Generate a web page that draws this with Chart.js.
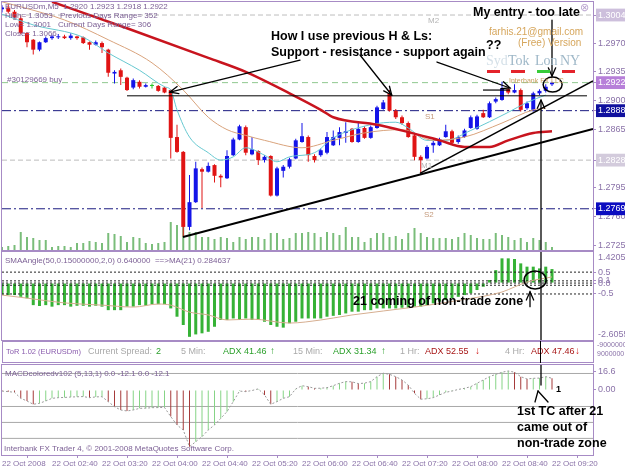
<!DOCTYPE html>
<html>
<head>
<meta charset="utf-8">
<title>EURUSDm M5</title>
<script src="https://cdn.jsdelivr.net/npm/chart.js@4.4.1/dist/chart.umd.min.js"></script>
<style>
html,body{margin:0;padding:0;background:#fff;}
body{width:625px;height:469px;position:relative;overflow:hidden;font-family:"Liberation Sans",Arial,sans-serif;}
canvas{position:absolute;left:0;}
.t{position:absolute;white-space:nowrap;line-height:1;}
.s8{font-size:8px;color:#7d6196;}
.b{font-weight:bold;font-size:12.5px;color:#000;}
.tor{font-size:9px;color:#a9a9a9;}
</style>
</head>
<body>
<canvas id="cMain" width="625" height="251" style="top:0"></canvas>
<canvas id="cSma" width="625" height="91" style="top:251px"></canvas>
<div id="tor" style="position:absolute;left:2px;top:341px;width:592px;height:22px;border:1px solid #a78bc5;box-sizing:border-box;">
  <span class="t" style="left:3px;top:6px;font-size:7.5px;color:#8a5cae">ToR 1.02 (EURUSDm)</span>
  <span class="t tor" style="left:85px;top:5px">Current Spread:</span>
  <span class="t tor" style="left:153px;top:5px;color:#2ca02c">2</span>
  <span class="t tor" style="left:178px;top:5px">5 Min:</span>
  <span class="t tor" style="left:220px;top:5px;color:#2ca02c">ADX 41.46</span>
  <span class="t tor" style="left:267px;top:4px;color:#2ca02c;font-weight:bold;font-size:10px">↑</span>
  <span class="t tor" style="left:290px;top:5px">15 Min:</span>
  <span class="t tor" style="left:330px;top:5px;color:#2ca02c">ADX 31.34</span>
  <span class="t tor" style="left:378px;top:4px;color:#2ca02c;font-weight:bold;font-size:10px">↑</span>
  <span class="t tor" style="left:397px;top:5px">1 Hr:</span>
  <span class="t tor" style="left:422px;top:5px;color:#a81818">ADX 52.55</span>
  <span class="t tor" style="left:472px;top:4px;color:#d01818;font-weight:bold;font-size:10px">↓</span>
  <span class="t tor" style="left:502px;top:5px">4 Hr:</span>
  <span class="t tor" style="left:528px;top:5px;color:#a81818">ADX 47.46</span>
  <span class="t tor" style="left:572px;top:4px;color:#d01818;font-weight:bold;font-size:10px">↓</span>
</div>
<div style="position:absolute;left:540px;top:341px;width:1px;height:22px;background:#000"></div>
<span class="t" style="left:597px;top:341px;font-size:7px;color:#8a72a8">-9000000</span>
<span class="t" style="left:597px;top:350px;font-size:7px;color:#8a72a8">9000000</span>
<canvas id="cMacd" width="625" height="106" style="top:363px"></canvas>

<!-- main panel texts -->
<span class="t s8" style="left:5px;top:3px">EURUSDm,M5&nbsp; 1.2920 1.2923 1.2918 1.2922</span>
<span class="t s8" style="left:5px;top:12px">High= 1.3053</span>
<span class="t s8" style="left:60px;top:12px">Previous Days Range= 352</span>
<span class="t s8" style="left:5px;top:21px">Low= 1.3001</span>
<span class="t s8" style="left:58px;top:21px">Current Days Range= 306</span>
<span class="t s8" style="left:5px;top:30px">Close= 1.3066</span>
<span class="t s8" style="left:7px;top:76px">#30129669 buy</span>
<span class="t" style="left:428px;top:17px;font-size:8px;color:#b4b4b4">M2</span>
<span class="t" style="left:425px;top:113px;font-size:8px;color:#c49a7c">S1</span>
<span class="t" style="left:421px;top:162px;font-size:8px;color:#b4b4b4">M1</span>
<span class="t" style="left:424px;top:211px;font-size:8px;color:#c49a7c">S2</span>
<span class="t b" style="left:271px;top:30px">How I use previous H &amp; Ls:</span>
<span class="t b" style="left:271px;top:46px">Support - resistance - support again</span>
<span class="t b" style="left:486px;top:39px">??</span>
<span class="t b" style="left:473px;top:6px">My entry - too late</span>
<span class="t" style="left:489px;top:27px;font-size:10px;color:#d6a65c">farhis.21@gmail.com</span>
<span class="t" style="left:518px;top:38px;font-size:10px;color:#d6a65c">(Free) Version</span>
<span class="t" style="left:486px;top:54px;font-size:14px;color:#d4e0e8;font-family:'Liberation Serif',serif">Syd</span>
<span class="t" style="left:508px;top:54px;font-size:14px;color:#9fb8c8;font-family:'Liberation Serif',serif">Tok</span>
<span class="t" style="left:535px;top:54px;font-size:14px;color:#9fb8c8;font-family:'Liberation Serif',serif">Lon</span>
<span class="t" style="left:560px;top:54px;font-size:14px;color:#9fb8c8;font-family:'Liberation Serif',serif">NY</span>
<div style="position:absolute;left:487px;top:70px;width:13px;height:3px;background:#e4232b"></div>
<div style="position:absolute;left:511px;top:70px;width:14px;height:3px;background:#e4232b"></div>
<div style="position:absolute;left:537px;top:70px;width:13px;height:3px;background:#38cc38"></div>
<div style="position:absolute;left:562px;top:70px;width:13px;height:3px;background:#e4232b"></div>
<span class="t" style="left:509px;top:77px;font-size:7px;color:#c8a060">Interbank FX LLC</span>
<span class="t" style="left:580px;top:2px;font-size:11px;color:#b9a3cf">⊗</span>

<!-- indicator texts -->
<span class="t s8" style="left:5px;top:257px">SMAAngle(50,0.15000000,2,0) 0.640000&nbsp; ==&gt;MA(21) 0.284637</span>
<span class="t b" style="left:353px;top:295px">21 coming of non-trade zone</span>
<span class="t s8" style="left:5px;top:370px">MACDcoloredv102 (5,13,1) 0.0 -12.1 0.0 -12.1</span>
<span class="t s8" style="left:4px;top:445px">Interbank FX Trader 4, © 2001-2008 MetaQuotes Software Corp.</span>
<span class="t b" style="left:517px;top:405px">1st TC after 21</span>
<span class="t b" style="left:517px;top:421px">came out of</span>
<span class="t b" style="left:517px;top:437px">non-trade zone</span>
<span class="t" style="left:556px;top:385px;font-size:9px;font-weight:bold;color:#000">1</span>

<script>
// ---------------- DATA ----------------
// bar index 0 = 22 Oct 02:00, one bar = 5 minutes
const opens  = [1.3011,1.3013,1.3008,1.3000,1.2982,1.2974,1.2962,1.2971,1.2976,1.2977,
                1.2978,1.2976,1.2978,1.2977,1.2971,1.2968,1.2970,1.2962,1.2933,1.2937,
                1.2928,1.2916,1.2923,1.2917,1.2918,1.2918,1.2916,1.2913,1.2856,1.2838,
                1.2747,1.2777,1.2817,1.2814,1.2822,1.2809,1.2806,1.2834,1.2853,1.2868,
                1.2835,1.2839,1.2828,1.2833,1.2785,1.2815,1.2820,1.2830,1.2850,1.2856,
                1.2833,1.2834,1.2837,1.2846,1.2855,1.2861,1.2866,1.2850,1.2867,1.2855,
                1.2867,1.2890,1.2909,1.2888,1.2880,1.2873,1.2858,1.2832,1.2830,1.2846,
                1.2846,1.2856,1.2863,1.2850,1.2856,1.2867,1.2866,1.2885,1.2880,1.2899,
                1.2901,1.2914,1.2910,1.2913,1.2891,1.2889,1.2909,1.2912,1.2920];
const highs  = [1.3016,1.3017,1.3010,1.3003,1.2983,1.2975,1.2972,1.2978,1.2980,1.2981,
                1.2980,1.2982,1.2979,1.2978,1.2972,1.2973,1.2972,1.2963,1.2937,1.2939,
                1.2929,1.2927,1.2925,1.2921,1.2921,1.2919,1.2917,1.2914,1.2871,1.2839,
                1.2810,1.2826,1.2819,1.2825,1.2823,1.2811,1.2840,1.2855,1.2871,1.2870,
                1.2856,1.2840,1.2834,1.2834,1.2820,1.2822,1.2831,1.2854,1.2873,1.2858,
                1.2835,1.2842,1.2862,1.2864,1.2868,1.2874,1.2867,1.2873,1.2869,1.2870,
                1.2894,1.2901,1.2913,1.2890,1.2882,1.2875,1.2860,1.2834,1.2846,1.2852,
                1.2855,1.2871,1.2865,1.2858,1.2866,1.2882,1.2883,1.2889,1.2899,1.2904,
                1.2923,1.2917,1.2920,1.2915,1.2899,1.2911,1.2914,1.2920,1.2923];
const lows   = [1.3007,1.3006,1.2999,1.2981,1.2965,1.2956,1.2960,1.2970,1.2974,1.2975,
                1.2975,1.2974,1.2974,1.2969,1.2962,1.2967,1.2958,1.2929,1.2921,1.2919,
                1.2912,1.2914,1.2915,1.2916,1.2915,1.2911,1.2909,1.2830,1.2837,1.2735,
                1.2743,1.2776,1.2770,1.2813,1.2801,1.2795,1.2805,1.2833,1.2852,1.2834,
                1.2834,1.2822,1.2825,1.2784,1.2784,1.2807,1.2818,1.2829,1.2849,1.2826,
                1.2825,1.2832,1.2835,1.2845,1.2846,1.2849,1.2849,1.2849,1.2854,1.2854,
                1.2866,1.2889,1.2887,1.2878,1.2871,1.2855,1.2828,1.2812,1.2829,1.2837,
                1.2845,1.2855,1.2847,1.2848,1.2855,1.2866,1.2865,1.2879,1.2879,1.2897,
                1.2900,1.2908,1.2909,1.2887,1.2889,1.2887,1.2907,1.2910,1.2918];
const closes = [1.3013,1.3008,1.3001,1.2982,1.2971,1.2962,1.2971,1.2976,1.2978,1.2978,
                1.2976,1.2979,1.2976,1.2970,1.2968,1.2971,1.2965,1.2934,1.2935,1.2929,
                1.2913,1.2925,1.2917,1.2919,1.2918,1.2912,1.2910,1.2855,1.2838,1.2747,
                1.2777,1.2818,1.2814,1.2821,1.2809,1.2807,1.2833,1.2853,1.2869,1.2837,
                1.2841,1.2828,1.2832,1.2785,1.2818,1.2820,1.2829,1.2852,1.2857,1.2834,
                1.2828,1.2840,1.2856,1.2856,1.2862,1.2863,1.2850,1.2866,1.2855,1.2868,
                1.2892,1.2898,1.2888,1.2880,1.2873,1.2856,1.2832,1.2828,1.2844,1.2849,
                1.2853,1.2863,1.2849,1.2856,1.2864,1.2880,1.2881,1.2880,1.2897,1.2902,
                1.2915,1.2910,1.2913,1.2889,1.2897,1.2909,1.2912,1.2917,1.2922];
const volumes = [3,4,5,18,13,12,10,10,3,4, 4,3,7,7,9,8,7,17,16,14,
                 8,13,12,7,6,7,8,28,25,23, 18,18,13,13,11,13,12,8,13,11,
                 13,13,11,17,17,11,12,17,17,18, 17,13,18,17,15,23,13,13,8,12,
                 17,17,13,14,11,17,22,17,13,12, 12,12,11,13,17,15,12,11,11,17,
                 15,13,10,12,8,12,10,8,3];
// moving averages on the price chart: [bar index, price]
const maSlowRed = [[8,1.3020],[20,1.2988],[33,1.2952],[39,1.2935],[46,1.2909],[51,1.2889],[53,1.2880],
                   [60,1.2871],[65,1.2862],[70,1.2852],[74,1.2844],[78,1.2844],[81,1.2852],[85,1.2861],[88,1.2863]];
const maMidTan  = [[0,1.3020],[3,1.3014],[10,1.2998],[17,1.2974],[24,1.2946],[29,1.2913],[33,1.2880],[36,1.2865],
                   [39,1.2858],[42,1.2852],[48,1.2843],[53,1.2852],[58,1.2861],[64,1.2865],[69,1.2852],[74,1.2856],
                   [80,1.2873],[85,1.2889],[87,1.2891]];
const maFastCyan= [[0,1.3005],[5,1.2992],[13,1.2977],[17,1.2958],[22,1.2937],[26,1.2917],[27,1.2913],[28,1.2889],
                   [30,1.2856],[33,1.2837],[35,1.2828],[37,1.2832],[39,1.2843],[42,1.2834],[44,1.2826],[46,1.2832],
                   [50,1.2837],[53,1.2855],[59,1.2871],[63,1.2874],[65,1.2867],[68,1.2852],[71,1.2852],[75,1.2864],
                   [81,1.2886],[84,1.2898],[87,1.2907]];
// horizontal levels
const levelM2 = 1.3004, levelBuy = 1.2922, levelS1 = 1.2888, levelM1 = 1.2828, levelS2 = 1.2769;
// drawn lines [bar index, price]
const trendLow   = [[28.96,1.27347],[94.56,1.28657]];
const trendSteep = [[66.88,1.2812],[94.56,1.2924]];
const prevLowLine  = [[20,1.2906],[93.6,1.2906]];
const prevHighLine = [[76.96,1.2913],[81.28,1.2913]];
const priceTicks  = [1.2725,1.2760,1.2795,1.2865,1.2900,1.2935,1.2970];
const markerTicks = [1.3004,1.2922,1.2888,1.2828,1.2769];

// SMA angle indicator
const smaAngle = [-0.55,-0.55,-0.55,-0.63,-0.70,-1.01,-1.05,-1.01,-1.08,-1.01,
                  -1.01,-1.08,-1.04,-1.04,-1.08,-1.04,-1.08,-1.24,-1.24,-1.24,
                  -1.08,-1.08,-1.01,-1.04,-0.97,-0.97,-0.97,-1.16,-1.54,-1.92,
                  -2.46,-2.35,-2.30,-2.23,-2.00,-1.69,-1.69,-1.62,-1.69,-1.62,
                  -1.69,-1.69,-1.77,-1.92,-2.00,-2.04,-1.84,-1.77,-1.62,-1.62,
                  -1.62,-1.62,-1.54,-1.50,-1.46,-1.39,-1.31,-1.31,-1.24,-1.24,
                  -1.16,-1.16,-1.16,-1.16,-1.13,-1.13,-1.08,-1.08,-1.01,-0.93,
                  -0.85,-0.78,-0.70,-0.63,-0.55,-0.47,-0.32,-0.17,0.14,0.59,
                  1.13,1.13,1.10,0.90,0.75,0.75,0.67,0.75,0.64];
const smaAngleMA = [[0,-0.55],[4,-0.69],[10,-0.91],[16,-1.01],[21,-1.10],[25,-0.96],[27,-1.01],[30,-1.33],
                    [33,-1.46],[36,-1.69],[40,-1.65],[46,-1.83],[51,-1.69],[53,-1.60],[56,-1.46],[66,-1.10],
                    [74,-0.75],[80,-0.41],[82,-0.18],[84,0.05],[88,0.28]];
const smaLevels = [0.5,0.1,0,-0.1,-0.5];
const smaTicks  = [0.5,0.1,0,-0.5];
const smaMax = 1.4205, smaMin = -2.6055;

// MACD colored histogram (signal period 1, equal to the histogram)
const macd = [-1.0,-1.5,-2.1,-7.6,-10,-13,-12.1,-10,-7.6,-7.0,
              -6.8,-6.4,-6.2,-6.0,-7.0,-6.3,-6.1,-10.6,-15.2,-18.2,
              -19.1,-18.2,-16.7,-16.5,-16.1,-16.0,-15.9,-24.2,-31.8,-36.4,
              -51.5,-47,-42.4,-36.4,-31.8,-25.8,-19.7,-10.6,-1.0,-1.5,
              -0.5,1.0,-4.5,-13,-10.6,-7.6,-6.1,1.0,3.9,3.0,
              1.5,1.6,2.1,3.9,6.1,7.6,7.4,5.8,6.2,7.6,
              12.1,15.2,14.2,12.1,9.1,4.5,-3.0,-8.4,-8.0,-7.0,
              -4.5,-2.1,-1.0,0.5,1.5,3.0,6.1,9.1,12.1,14.2,
              16.1,17.3,16.1,12.1,10.0,10.6,10.8,12.1,10.6];
const macdLevels = [15,-15,-29.5,-44];
const macdTicks = [0,16.6];

// time axis
const timeTickIdx = [0,8,16,24,32,40,48,56,64,72,80,88];
const timeLabels = ['22 Oct 2008','22 Oct 02:40','22 Oct 03:20','22 Oct 04:00','22 Oct 04:40','22 Oct 05:20',
                    '22 Oct 06:00','22 Oct 06:40','22 Oct 07:20','22 Oct 08:00','22 Oct 08:40','22 Oct 09:20'];

// ---------------- STYLE ----------------
const X_MIN = 0, X_MAX = 94.56;
const FRAME = '#a78bc5', TICKC = '#8a72a8';
const BULL = '#1414e8', BEAR = '#e01414', DOJI = '#22c422';
const markerStyle = {'1.3004':'#cdbfdc','1.2922':'#b77fd9','1.2888':'#10109e','1.2828':'#d3cbdc','1.2769':'#0c0cc0'};
Chart.defaults.font.family = '"Liberation Sans", Arial, sans-serif';
Chart.defaults.animation = false;

const pts = a => a.map(([x, y]) => ({x, y}));
const hline = (v) => [{x: X_MIN, y: v}, {x: X_MAX, y: v}];
const lineDs = (data, color, width, extra) => Object.assign({type:'line', data, borderColor:color, borderWidth:width,
  pointRadius:0, fill:false, tension:0}, extra || {});

const overlay = {
  id: 'overlay',
  afterDatasetsDraw(chart, args, o) {
    const {ctx, chartArea: a} = chart;
    const xs = chart.scales.x, ys = chart.scales.y;
    const P = p => [xs.getPixelForValue(p[0]), ys.getPixelForValue(p[1])];
    ctx.save();
    ctx.beginPath(); ctx.rect(a.left, a.top, a.width, a.height); ctx.clip();
    ctx.strokeStyle = '#000'; ctx.lineCap = 'round';
    (o.items || []).forEach(it => {
      if (it.type === 'ellipse') {
        const [x, y] = P(it.at);
        ctx.lineWidth = 1.5; ctx.beginPath(); ctx.ellipse(x, y, it.rx, it.ry, 0, 0, Math.PI * 2); ctx.stroke();
        return;
      }
      const [x1, y1] = P(it.from), [x2, y2] = P(it.to);
      ctx.lineWidth = it.w || 1.3;
      ctx.beginPath(); ctx.moveTo(x1, y1); ctx.lineTo(x2, y2); ctx.stroke();
      if (it.type === 'arrow') {
        const ang = Math.atan2(y2 - y1, x2 - x1), L = 9, w = 0.42;
        ctx.beginPath();
        ctx.moveTo(x2 - L * Math.cos(ang - w), y2 - L * Math.sin(ang - w));
        ctx.lineTo(x2, y2);
        ctx.lineTo(x2 - L * Math.cos(ang + w), y2 - L * Math.sin(ang + w));
        ctx.stroke();
      }
    });
    ctx.restore();
    ctx.save();
    ctx.strokeStyle = FRAME; ctx.lineWidth = 1;
    ctx.strokeRect(Math.round(a.left) - 0.5, Math.round(a.top) - 0.5, Math.round(a.width) + 1, Math.round(a.height) + 1);
    if (o.edge) {
      ctx.fillStyle = TICKC; ctx.font = '9px "Liberation Sans", Arial'; ctx.textAlign = 'left'; ctx.textBaseline = 'middle';
      ctx.fillText(ys.max.toFixed(4), ys.left + 5, a.top + 6);
      ctx.fillText(ys.min.toFixed(4), ys.left + 5, a.bottom - 5);
    }
    ctx.restore();
  }
};
Chart.register(overlay);

const xHidden = {type:'linear', min:X_MIN, max:X_MAX, offset:false, display:false, grid:{display:false}};
const yRight = (extra) => Object.assign({
  position:'right',
  afterFit(s) { s.width = 32; s.paddingTop = 0; s.paddingBottom = 0; },
  grid:{display:true, drawOnChartArea:false, tickLength:3, color:FRAME},
  border:{display:true, color:FRAME},
  ticks:{autoSkip:false, font:{size:9}, color:TICKC, padding:2}
}, extra);

// ---------------- MAIN PRICE CHART ----------------
const candleColor = i => closes[i] > opens[i] ? BULL : (closes[i] < opens[i] ? BEAR : DOJI);
const allPriceTicks = priceTicks.concat(markerTicks).sort((a, b) => a - b);
const isMarker = v => markerTicks.some(m => Math.abs(m - v) < 1e-7);

new Chart(document.getElementById('cMain'), {
  type: 'bar',
  data: { datasets: [
    lineDs(pts(trendLow), '#000', 2, {order:1}),
    lineDs(pts(trendSteep), '#000', 1.5, {order:1}),
    lineDs(pts(prevLowLine), '#000', 1, {order:1}),
    lineDs(pts(prevHighLine), '#000', 1.2, {order:1}),
    lineDs(pts(maSlowRed), '#c8141e', 2.5, {order:2, cubicInterpolationMode:'monotone'}),
    lineDs(pts(maMidTan), '#d9a37c', 1, {order:2, cubicInterpolationMode:'monotone'}),
    lineDs(pts(maFastCyan), '#66c8d0', 1, {order:2, cubicInterpolationMode:'monotone'}),
    {type:'bar', data: opens.map((o, i) => ({x:i, y:[o, closes[i]]})), grouped:false, barPercentage:1, categoryPercentage:1,
     maxBarThickness:4, minBarLength:1, inflateAmount:0,
     backgroundColor: c => c.dataIndex === undefined ? BULL : candleColor(c.dataIndex), order:3},
    {type:'bar', data: lows.map((l, i) => ({x:i, y:[l, highs[i]]})), grouped:false, barPercentage:1, categoryPercentage:1,
     maxBarThickness:1, inflateAmount:0,
     backgroundColor: c => c.dataIndex === undefined ? BULL : candleColor(c.dataIndex), order:4},
    lineDs(hline(levelM2), '#bdbdbd', 1, {order:5, borderDash:[5,3]}),
    lineDs(hline(levelBuy), '#8fc98f', 1, {order:5, borderDash:[6,4]}),
    lineDs(hline(levelS1), '#1a1a80', 1, {order:5, borderDash:[9,3,2,3]}),
    lineDs(hline(levelM1), '#bdbdbd', 1, {order:5, borderDash:[5,3]}),
    lineDs(hline(levelS2), '#1a1a80', 1, {order:5, borderDash:[9,3,2,3]}),
    {type:'bar', yAxisID:'yv', data: volumes.map((v, i) => ({x:i, y:v})), grouped:false, barPercentage:1, categoryPercentage:1,
     maxBarThickness:2, inflateAmount:0, backgroundColor:'#7abd7a', order:6}
  ]},
  options: {
    responsive:false, devicePixelRatio:1, animation:false,
    layout:{padding:{left:2, top:2, bottom:1, right:0}},
    plugins:{legend:{display:false}, tooltip:{enabled:false},
      overlay:{items:[
        {type:'arrow', from:[47.68,1.29494], to:[26.88,1.29106]},
        {type:'arrow', from:[57.28,1.29555], to:[62.35,1.29070]},
        {type:'arrow', from:[69.6,1.29470], to:[81.28,1.29155]},
        {type:'arrow', from:[88,1.29979], to:[88,1.29300]},
        {type:'arrow', from:[86.24,1.2700], to:[86.24,1.29009]},
        {type:'ellipse', at:[88.1,1.29197], rx:9.5, ry:7.5}
      ]}},
    scales: {
      x: xHidden,
      y: yRight({min:1.27190, max:1.30198,
        afterBuildTicks(s) { s.ticks = allPriceTicks.map(v => ({value:v})); },
        ticks:{autoSkip:false, font:{size:9}, padding:2,
          callback: v => Number(v).toFixed(4),
          color: c => (c.tick && isMarker(c.tick.value)) ? '#ffffff' : TICKC,
          showLabelBackdrop: c => !!(c.tick && isMarker(c.tick.value)),
          backdropColor: c => c.tick ? (markerStyle[Number(c.tick.value).toFixed(4)] || 'rgba(0,0,0,0)') : 'rgba(0,0,0,0)',
          backdropPadding:{top:1, bottom:1, left:2, right:3}}}),
      yv: {display:false, min:0, max:248}
    }
  }
});

// ---------------- SMA ANGLE PANEL ----------------
new Chart(document.getElementById('cSma'), {
  type:'bar',
  data:{datasets:[
    lineDs(pts(smaAngleMA), '#d6ae90', 1, {order:1, cubicInterpolationMode:'monotone'}),
    ...smaLevels.map(v => lineDs(hline(v), '#222', 1, {order:2, borderDash:[2,2]})),
    {type:'bar', data: smaAngle.map((v, i) => ({x:i, y:v})), grouped:false, barPercentage:1, categoryPercentage:1,
     maxBarThickness:3, inflateAmount:0, backgroundColor:'#36b236', order:3}
  ]},
  options:{
    responsive:false, devicePixelRatio:1, animation:false,
    layout:{padding:{left:2, top:1, bottom:2, right:0}},
    plugins:{legend:{display:false}, tooltip:{enabled:false},
      overlay:{edge:true, items:[
        {type:'line', from:[86.24,smaMax], to:[86.24,smaMin]},
        {type:'ellipse', at:[85.3,0.14], rx:11, ry:9},
        {type:'arrow', from:[84.48,-1.08], to:[84.48,-0.40]}
      ]}},
    scales:{
      x: xHidden,
      y: yRight({min:smaMin, max:smaMax,
        afterBuildTicks(s) { s.ticks = smaTicks.map(v => ({value:v})); },
        ticks:{autoSkip:false, font:{size:9}, color:TICKC, padding:2, callback: v => v === 0 ? '0.0' : String(v)}})
    }
  }
});

// ---------------- MACD PANEL ----------------
const macdColor = i => (i === 0 || macd[i] < macd[i - 1]) ? '#a63a3a' : '#86d486';
new Chart(document.getElementById('cMacd'), {
  type:'bar',
  data:{datasets:[
    lineDs(macd.map((v, i) => ({x:i, y:v})), '#9a9a9a', 1, {order:1, borderDash:[2,2]}),
    {type:'bar', data: macd.map((v, i) => ({x:i, y:v})), grouped:false, barPercentage:1, categoryPercentage:1,
     maxBarThickness:1, inflateAmount:0,
     backgroundColor: c => c.dataIndex === undefined ? '#86d486' : macdColor(c.dataIndex), order:2},
    ...macdLevels.map(v => lineDs(hline(v), '#a8a8a8', 1, {order:3}))
  ]},
  options:{
    responsive:false, devicePixelRatio:1, animation:false,
    layout:{padding:{left:2, top:2, bottom:0, right:0}},
    plugins:{legend:{display:false}, tooltip:{enabled:false},
      overlay:{items:[
        {type:'line', from:[86.24,22.7], to:[86.24,4.5]},
        {type:'line', from:[85.28,-10.9], to:[85.76,-0.9]},
        {type:'line', from:[87.36,-10.9], to:[85.76,-0.9]}
      ]}},
    scales:{
      x:{type:'linear', min:X_MIN, max:X_MAX, offset:false, position:'bottom',
        afterBuildTicks(s) { s.ticks = timeTickIdx.map(v => ({value:v})); },
        afterFit(s) { s.height = 14; s.paddingLeft = 0; s.paddingRight = 0; },
        grid:{display:true, drawOnChartArea:false, tickLength:3, color:FRAME},
        border:{display:true, color:FRAME},
        ticks:{autoSkip:false, maxRotation:0, align:'start', font:{size:8}, color:TICKC, padding:1,
          callback: (v, i) => timeLabels[i]}},
      y: yRight({min:-59.1, max:22.7,
        afterBuildTicks(s) { s.ticks = macdTicks.map(v => ({value:v})); },
        ticks:{autoSkip:false, font:{size:9}, color:TICKC, padding:2, callback: v => v === 0 ? '0.00' : String(v)}})
    }
  }
});
</script>
</body>
</html>
